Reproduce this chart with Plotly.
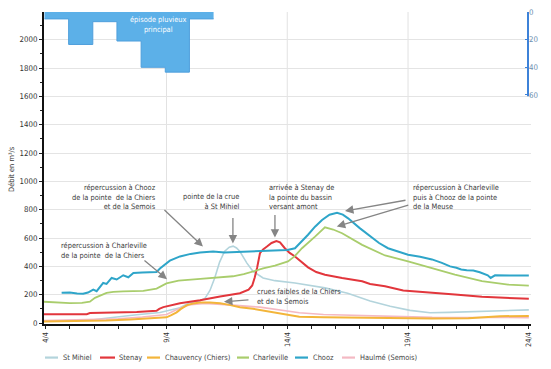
import plotly.graph_objects as go

# ---- data -------------------------------------------------------------
# daily rainfall (mm), one block per day of April
rain_days = [4, 5, 6, 7, 8, 9, 10]
rain_mm = [5, 23.5, 7, 21, 40, 43.5, 5]

# discharge (m3/s), x = day of April (fractional)
sm_days = [3.93, 5.0, 5.83, 6.4, 7.0, 7.77, 8.73, 9.2, 9.56, 9.97, 10.39, 10.6, 10.8, 11.0,
           11.2, 11.4, 11.6, 11.76, 11.9, 12.04, 12.33, 12.58, 13.0, 13.49, 14.32, 15.56,
           16.5, 17.43, 18.26, 19.08, 19.91, 20.7, 21.57, 22.94, 24.0]
st_mihiel = [14, 16, 19, 32, 45, 58, 74, 92, 108, 145, 158, 175, 230, 320,
             430, 505, 535, 543, 530, 505, 423, 365, 318, 299, 283, 248,
             210, 155, 119, 89, 72, 75, 79, 89, 93]

sten_days = [3.93, 5.7, 5.83, 6.5, 7.77, 8.59, 8.7, 8.87, 9.2, 9.56, 9.97, 10.39, 11.22, 12.04,
             12.4, 12.55, 12.65, 12.75, 12.87, 13.0, 13.16, 13.35, 13.55, 13.7, 13.9, 14.1,
             14.32, 14.6, 14.86, 15.2, 15.56, 16.27, 17.1, 17.43, 18.05, 18.8, 19.99, 20.94,
             22.06, 23.14, 24.0]
stenay = [61, 62, 70, 73, 77, 86, 100, 112, 128, 140, 150, 160, 187, 210,
          235, 265, 320, 388, 493, 520, 540, 565, 578, 570, 528, 495,
          470, 430, 393, 360, 341, 318, 295, 276, 260, 229, 215, 201,
          185, 176, 171]

chauv_days = [3.93, 5.5, 6.5, 7.5, 8.6, 9.0, 9.2, 9.42, 9.6, 9.85, 10.1, 10.39, 10.8, 11.22,
              11.6, 12.04, 12.58, 13.0, 13.49, 14.0, 14.5, 15.5, 17.0, 18.5, 20.0, 21.5,
              22.3, 22.8, 24.0]
chauvency = [10, 12, 18, 25, 33, 40, 55, 75, 100, 126, 138, 145, 145, 140,
             128, 112, 100, 88, 75, 58, 45, 40, 36, 33, 32, 33,
             40, 48, 50]

charl_days = [3.93, 4.5, 5.0, 5.5, 5.83, 6.04, 6.3, 6.52, 6.8, 7.2, 8.04, 8.59, 9.0, 9.5,
              10.4, 11.22, 11.75, 12.2, 12.58, 13.0, 13.49, 14.03, 14.3, 14.61, 15.15, 15.56,
              15.9, 16.27, 17.1, 18.05, 19.0, 19.99, 20.94, 22.06, 23.14, 24.0]
charleville = [150, 145, 140, 142, 150, 178, 200, 213, 220, 224, 227, 243, 280, 300,
               312, 320, 330, 345, 365, 385, 405, 435, 470, 528, 610, 676,
               660, 634, 552, 477, 435, 388, 341, 295, 271, 264]

chooz_days = [4.66, 5.0, 5.3, 5.55, 5.75, 5.97, 6.11, 6.38, 6.52, 6.73, 6.94, 7.21, 7.42, 7.63,
              8.0, 8.59, 8.73, 9.14, 9.56, 10.0, 10.39, 10.93, 11.4, 11.75, 12.2, 12.58, 13.16,
              13.49, 14.0, 14.32, 14.6, 14.86, 15.15, 15.44, 15.75, 16.06, 16.3, 16.52, 17.0,
              17.35, 17.8, 18.17, 19.0, 19.5, 19.99, 20.4, 20.74, 21.0, 21.2, 21.43, 21.7,
              21.97, 22.2, 22.3, 22.42, 22.6, 23.2, 24.0]
chooz = [213, 215, 208, 206, 215, 236, 225, 283, 276, 318, 307, 337, 323, 353,
         357, 360, 385, 440, 470, 488, 498, 505, 497, 500, 503, 505, 512,
         512, 516, 528, 575, 623, 680, 728, 765, 779, 765, 739, 670,
         623, 565, 528, 482, 468, 449, 425, 400, 390, 378, 372, 370,
         358, 345, 337, 318, 337, 335, 335]

haul_days = [3.93, 5.5, 7.0, 8.0, 9.0, 9.5, 10.0, 10.6, 11.2, 11.6, 12.87, 13.5, 14.5, 15.5,
             17.8, 20.0, 24.0]
haulme = [18, 22, 30, 42, 60, 100, 130, 138, 133, 128, 112, 96, 72, 60,
          49, 40, 38]

tick_days = [4, 9, 14, 19, 24]
tick_text = ["4/4", "9/4", "14/4", "19/4", "24/4"]
rain_ticks = [0, 20, 40, 60]

series = [
    ("St Mihiel", sm_days, st_mihiel, "#b3d4dc", 1.6),
    ("Haulmé (Semois)", haul_days, haulme, "#f4b9c3", 1.6),
    ("Chauvency (Chiers)", chauv_days, chauvency, "#f3b53a", 2.0),
    ("Stenay", sten_days, stenay, "#e2363c", 2.0),
    ("Charleville", charl_days, charleville, "#a9cd6c", 1.8),
    ("Chooz", chooz_days, chooz, "#2ea5c9", 2.0),
]

FONT = "Liberation Sans Narrow, Arial Narrow, DejaVu Sans Condensed, sans-serif"
TXT = "#3a3a3a"
FS = 7.4
RAIN_BLUE = "#3d82d8"

# plot-area geometry (pixels) used to place free text in paper coordinates
L, R, T, B = 44, 531, 8, 324
RAIN_PX_PER_MM = 1.4


def px(x):
    return (x - L) / (R - L)


def py(y):
    return (B - y) / (B - T)


fig = go.Figure()

# rainfall as a stepped block hanging from the top (reversed secondary axis)
bar_shift = 0.05
step_x = [d - bar_shift for d in rain_days] + [rain_days[-1] + 1 - bar_shift]
step_y = rain_mm + [rain_mm[-1]]
fig.add_trace(go.Scatter(
    x=step_x, y=step_y, yaxis="y2", mode="lines", line_shape="hv",
    line=dict(color="#4f9fdc", width=1), fill="tozeroy", fillcolor="#5cb0e8",
    showlegend=False, hoverinfo="skip",
))

for name, xs, ys, color, w in series:
    fig.add_trace(go.Scatter(
        x=xs, y=ys, mode="lines", name=name,
        line=dict(color=color, width=w), showlegend=False,
    ))

# vertical grid lines on the labelled dates
shapes = []
for d in tick_days[1:-1]:
    shapes.append(dict(type="line", xref="x", yref="paper", x0=d, x1=d, y0=0, y1=1,
                       line=dict(color="#e2e2e2", width=1), layer="below"))

# short rainfall scale line on the right
shapes.append(dict(type="line", xref="paper", yref="y2", x0=px(528), x1=px(528),
                   y0=rain_ticks[0] - 1, y1=rain_ticks[-1] + 1,
                   line=dict(color=RAIN_BLUE, width=2)))

annotations = []

# text notes
notes = [
    ("répercussion à Chooz<br>de la pointe  de la Chiers<br>et de la Semois", 158, 195, "right"),
    ("pointe de la crue<br>à St Mihiel", 241, 199.5, "right"),
    ("répercussion à Charleville<br>de la pointe  de la Chiers", 59, 250, "left"),
    ("arrivée à Stenay de<br>la pointe du bassin<br>versant amont", 267, 195.5, "left"),
    ("répercussion à Charleville<br>puis à Chooz de la pointe<br>de la Meuse", 411, 195, "left"),
    ("crues faibles de la Chiers<br>et de la Semois", 255, 296.5, "left"),
]
for text, x, y, side in notes:
    annotations.append(dict(text=text, xref="paper", yref="paper", x=px(x), y=py(y),
                            xanchor=side, yanchor="middle", align=side, showarrow=False,
                            font=dict(family=FONT, size=FS, color=TXT)))

# arrows: head in data coordinates, tail as pixel offset
arrows = [
    (10.51, 540, -40, -38),
    (11.75, 561, 0, -27),
    (9.02, 309, -24, -20),
    (13.49, 603, 0, -24),
    (16.39, 791, 62, -11),
    (16.05, 681, 73, -22),
    (11.38, 150, 26, -2),
]
for hx, hy, ax, ay in arrows:
    annotations.append(dict(text="", x=hx, y=hy, xref="x", yref="y", ax=ax, ay=ay,
                            showarrow=True, arrowhead=2, arrowsize=1.3, arrowwidth=1.3,
                            arrowcolor="#858585", standoff=0))

# label inside the rainfall block
annotations.append(dict(text="épisode pluvieux<br>principal", xref="paper", yref="paper",
                        x=px(157.5), y=py(20.5), xanchor="center", yanchor="middle",
                        showarrow=False, font=dict(family=FONT, size=FS, color="white")))

# y-axis title
annotations.append(dict(text="Débit en m³/s", xref="paper", yref="paper",
                        x=px(12), y=py(167), textangle=-90, xanchor="center",
                        yanchor="middle", showarrow=False,
                        font=dict(family=FONT, size=FS, color=TXT)))

# legend row
legend_items = [
    ("St Mihiel", "#b3d4dc", 45, 58, 61),
    ("Stenay", "#e2363c", 100, 115, 117),
    ("Chauvency (Chiers)", "#f3b53a", 147, 160, 163),
    ("Charleville", "#a9cd6c", 237, 249, 251),
    ("Chooz", "#2ea5c9", 295, 308, 311),
    ("Haulmé (Semois)", "#f4b9c3", 342, 355, 358),
]
leg_y = py(358)
for name, color, a, b, c in legend_items:
    shapes.append(dict(type="line", xref="paper", yref="paper", x0=px(a), x1=px(b),
                       y0=leg_y, y1=leg_y, line=dict(color=color, width=2.2)))
    annotations.append(dict(text=name, xref="paper", yref="paper", x=px(c), y=leg_y,
                            xanchor="left", yanchor="middle", showarrow=False,
                            font=dict(family=FONT, size=FS, color="#444")))

fig.update_layout(
    width=551, height=369,
    margin=dict(l=L, r=551 - R, t=T, b=369 - B),
    paper_bgcolor="white", plot_bgcolor="white",
    font=dict(family=FONT, size=FS, color=TXT),
    showlegend=False,
    shapes=shapes, annotations=annotations,
    xaxis=dict(
        range=[3.93, 24.09], tickvals=tick_days, ticktext=tick_text, tickangle=-90,
        showline=True, linecolor="#111", linewidth=2,
        ticks="outside", ticklen=3, tickcolor="#222",
        minor=dict(tick0=4, dtick=1, ticks="outside", ticklen=3, tickcolor="#222"),
        showgrid=False, zeroline=False,
        tickfont=dict(family=FONT, size=FS, color="#333"),
    ),
    yaxis=dict(
        range=[-7, 2196], tick0=0, dtick=200,
        showline=True, linecolor="#111", linewidth=2,
        ticks="outside", ticklen=3, tickcolor="#222",
        minor=dict(dtick=100, ticks="outside", ticklen=2, tickcolor="#222"),
        showgrid=True, gridcolor="#e4e4e4", gridwidth=1, zeroline=False,
        tickfont=dict(family=FONT, size=FS + 0.4, color="#333"),
    ),
    yaxis2=dict(
        overlaying="y", range=[(B - T) / RAIN_PX_PER_MM, 0],
        anchor="free", position=px(528), side="right", showline=False,
        tickvals=rain_ticks, ticks="inside", ticklen=3, tickcolor=RAIN_BLUE,
        showgrid=False, zeroline=False,
        tickfont=dict(family=FONT, size=FS + 0.4, color="#6d8fb0"),
    ),
)

fig.write_html("out.html")
